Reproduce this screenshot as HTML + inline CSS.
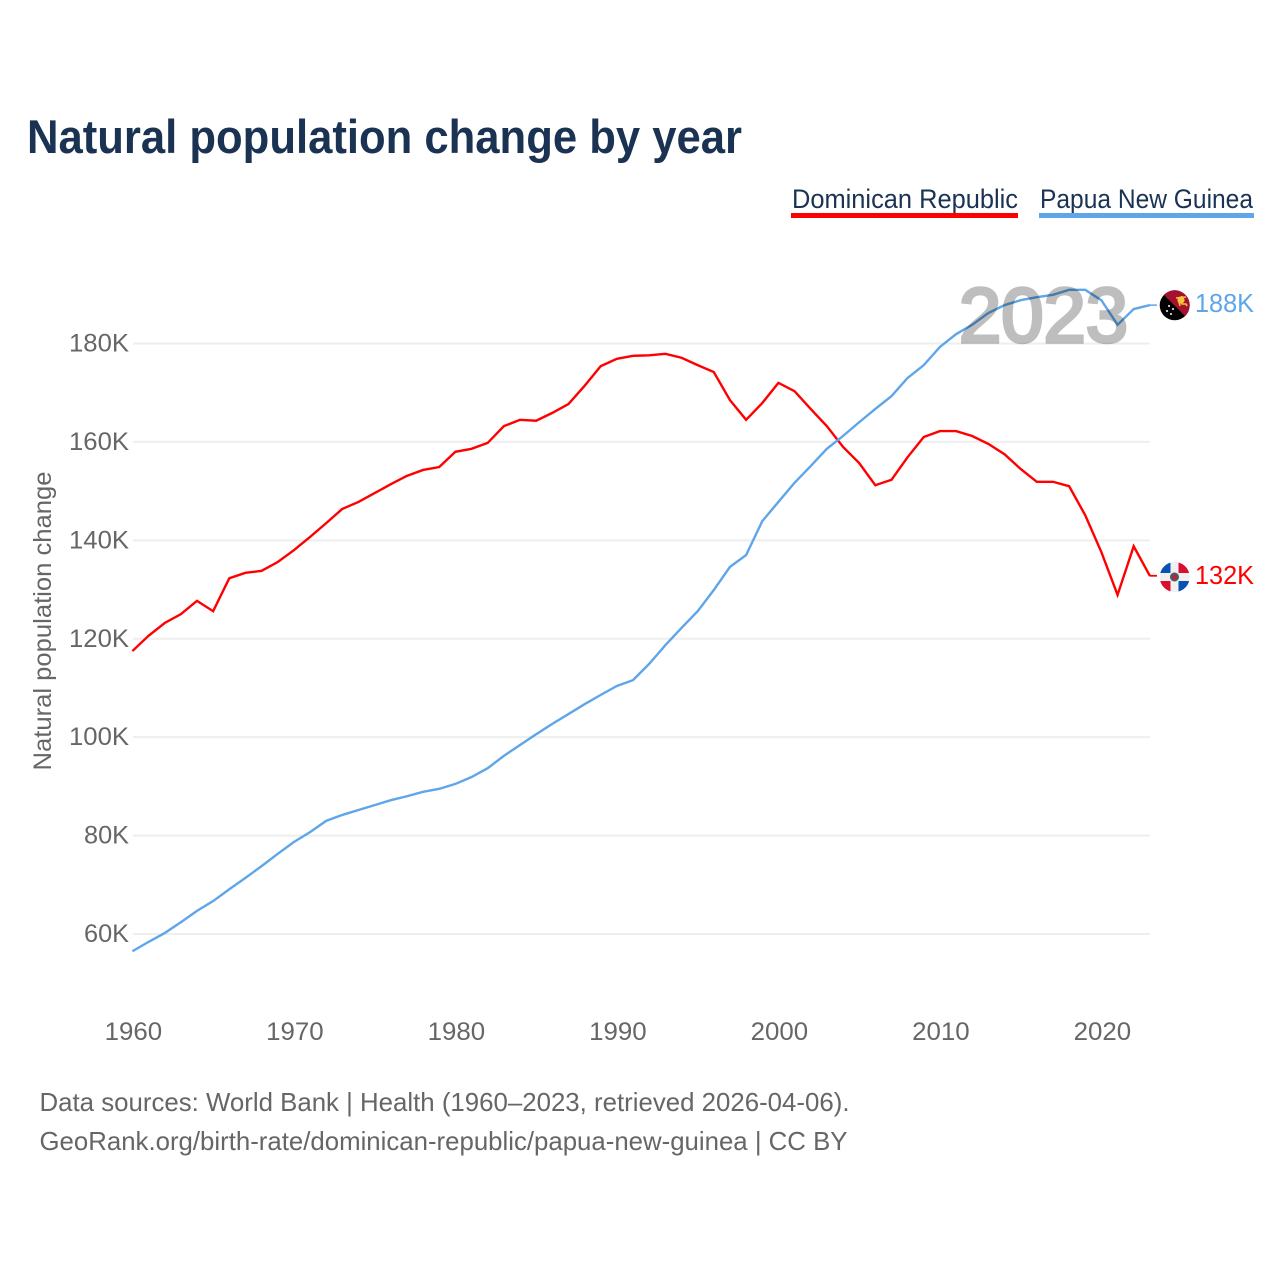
<!DOCTYPE html>
<html lang="en">
<head>
<meta charset="utf-8">
<title>Natural population change by year</title>
<style>
html,body{margin:0;padding:0;background:#fff;width:1280px;height:1280px;overflow:hidden}
svg{display:block}
text{font-family:"Liberation Sans",sans-serif}
</style>
</head>
<body>
<svg id="chart" width="1280" height="1280" viewBox="0 0 1280 1280" xmlns="http://www.w3.org/2000/svg">
  <defs>
    <clipPath id="flag-clip-pg"><circle cx="1174.7" cy="305.3" r="15"/></clipPath>
    <clipPath id="flag-clip-do"><circle cx="1174.7" cy="577" r="15"/></clipPath>
  </defs>
  <text x="27" y="153" font-size="47" font-weight="700" fill="#1a3353" textLength="715" lengthAdjust="spacingAndGlyphs">Natural population change by year</text>

  <g>
    <text x="792" y="208" font-size="27" fill="#1a3353" textLength="226" lengthAdjust="spacingAndGlyphs">Dominican Republic</text>
    <rect x="791" y="213" width="227" height="5" fill="#ff0000"/>
  </g>
  <g>
    <text x="1040" y="208" font-size="27" fill="#1a3353" textLength="213" lengthAdjust="spacingAndGlyphs">Papua New Guinea</text>
    <rect x="1039" y="213" width="215" height="5" fill="#5fa5ea"/>
  </g>

  <g id="grid"></g>
  <g id="y-ticks"></g>
  <g id="x-ticks"></g>
  <text transform="translate(51,621) rotate(-90)" text-anchor="middle" font-size="25" fill="#666666" textLength="299" lengthAdjust="spacingAndGlyphs">Natural population change</text>

  <path id="line-dr" fill="none" stroke="#ff0000" stroke-width="2.4" stroke-linejoin="miter"/>
  <path id="line-pg" fill="none" stroke="#5fa5ea" stroke-width="2.4" stroke-linejoin="miter"/>

  <text x="959" y="342" font-size="77" fill="#000" stroke="#000" stroke-width="3.5" opacity="0.25" textLength="169" lengthAdjust="spacingAndGlyphs">2023</text>

  <line id="leader-pg" x1="1149.5" x2="1157" stroke="#5fa5ea" stroke-width="1.5"/>
  <line id="leader-dr" x1="1149.5" x2="1157" stroke="#ff0000" stroke-width="1.8"/>

  <g clip-path="url(#flag-clip-pg)">
    <rect x="1159" y="290" width="32" height="32" fill="#000"/>
    <polygon points="1159,290 1191,290 1191,322" fill="#a6122d"/>
    <circle cx="1181" cy="300" r="3.6" fill="#f7c23c"/>
    <path d="M1176 298 L1186 297 M1182 296 L1182 304 L1186 304 L1187 306 M1179 302 L1180 306" fill="none" stroke="#f7c23c" stroke-width="1.6"/>
    <circle cx="1169" cy="306" r="1" fill="#fff"/>
    <circle cx="1173" cy="309" r="1" fill="#fff"/>
    <circle cx="1167" cy="311" r="1" fill="#fff"/>
    <circle cx="1171" cy="314" r="1" fill="#fff"/>
  </g>
  <g clip-path="url(#flag-clip-do)">
    <rect x="1159" y="561" width="32" height="32" fill="#f0f0f0"/>
    <rect x="1159" y="561" width="11.5" height="12" fill="#0a52b0"/>
    <rect x="1178.5" y="561" width="12.5" height="12" fill="#d80f2f"/>
    <rect x="1159" y="581" width="11.5" height="12" fill="#d80f2f"/>
    <rect x="1178.5" y="581" width="12.5" height="12" fill="#0a52b0"/>
    <circle cx="1174.5" cy="577" r="4.5" fill="#4a5a66"/>
    <circle cx="1174.5" cy="577" r="2.3" fill="#c8202f"/>
  </g>

  <text x="1195" y="312" font-size="26" fill="#5fa5ea" textLength="59" lengthAdjust="spacingAndGlyphs">188K</text>
  <text x="1195" y="584" font-size="26" fill="#ff0000" textLength="59" lengthAdjust="spacingAndGlyphs">132K</text>

  <text x="39.5" y="1111" font-size="26" fill="#666666" textLength="810" lengthAdjust="spacingAndGlyphs">Data sources: World Bank | Health (1960–2023, retrieved 2026-04-06).</text>
  <text x="39.5" y="1150" font-size="26" fill="#666666" textLength="808" lengthAdjust="spacingAndGlyphs">GeoRank.org/birth-rate/dominican-republic/papua-new-guinea | CC BY</text>
</svg>
<script>
var firstYear = 1960;
var dominicanValues = [117.5,120.6,123.2,125.0,127.7,125.6,132.3,133.4,133.8,135.6,138.0,140.7,143.5,146.4,147.8,149.6,151.4,153.1,154.3,154.9,158.0,158.6,159.8,163.2,164.5,164.3,165.9,167.7,171.4,175.4,176.9,177.5,177.6,177.9,177.1,175.6,174.2,168.5,164.5,167.9,172.0,170.3,166.7,163.2,159.0,155.7,151.2,152.3,156.9,161.0,162.2,162.2,161.2,159.6,157.5,154.5,151.9,151.9,151.0,145.1,137.6,128.9,138.8,132.8];
var papuaValues = [56.5,58.4,60.2,62.4,64.7,66.7,69.1,71.4,73.8,76.3,78.7,80.7,83.0,84.2,85.2,86.2,87.2,88.0,88.9,89.5,90.5,91.9,93.7,96.2,98.4,100.6,102.7,104.7,106.7,108.6,110.4,111.6,114.9,118.7,122.2,125.6,129.9,134.6,137.0,143.9,147.8,151.7,155.1,158.6,161.2,164.0,166.7,169.3,173.0,175.6,179.3,181.9,183.8,186.2,187.8,188.8,189.4,189.9,190.9,190.9,188.8,183.8,187.0,187.8];
var yTickValues = [60,80,100,120,140,160,180];
var yTickLabels = ["60K","80K","100K","120K","140K","160K","180K"];
var xTickValues = [1960,1970,1980,1990,2000,2010,2020];
var xTickLabels = ["1960","1970","1980","1990","2000","2010","2020"];

var NS = "http://www.w3.org/2000/svg";
function xScale(year){ return 133 + (year - 1960) * 16.15; }
function yScale(value){ return 343.5 + (180 - value) * 4.921; }
function pathFor(values){
  var d = "";
  for (var i = 0; i < values.length; i++) {
    d += (i ? "L" : "M") + (xScale(firstYear + i) - 0.6).toFixed(2) + " " + yScale(values[i]).toFixed(2);
  }
  return d;
}
function makeEl(tag, attrs, parent, txt){
  var el = document.createElementNS(NS, tag);
  for (var k in attrs) el.setAttribute(k, attrs[k]);
  if (txt) el.textContent = txt;
  parent.appendChild(el);
  return el;
}
var grid = document.getElementById("grid");
var yTicks = document.getElementById("y-ticks");
var xTicks = document.getElementById("x-ticks");
yTickValues.forEach(function(v, i){
  var y = yScale(v);
  var ln = makeEl("line", {x1:133, x2:1150, y1:y, y2:y, stroke:"#eeeeee", "stroke-width":2}, grid);
  
  
  var label = yTickLabels[i];
  var t = makeEl("text", {x:129, y:y + 8, "text-anchor":"end", "font-size":25, fill:"#666666", textLength:label.length * 15, lengthAdjust:"spacingAndGlyphs"}, yTicks, label);
  
  
});
xTickValues.forEach(function(v, i){
  var t = makeEl("text", {x:xScale(v) + 0.4, y:1040, "text-anchor":"middle", "font-size":25, fill:"#666666", textLength:57.5, lengthAdjust:"spacingAndGlyphs"}, xTicks, xTickLabels[i]);
  
  
});
document.getElementById("line-dr").setAttribute("d", pathFor(dominicanValues));
document.getElementById("line-pg").setAttribute("d", pathFor(papuaValues));
var lastDr = yScale(dominicanValues[dominicanValues.length - 1]);
var lastPg = yScale(papuaValues[papuaValues.length - 1]);
var leaderDr = document.getElementById("leader-dr");
leaderDr.setAttribute("y1", lastDr);
leaderDr.setAttribute("y2", lastDr);
var leaderPg = document.getElementById("leader-pg");
leaderPg.setAttribute("y1", lastPg);
leaderPg.setAttribute("y2", lastPg);
</script>
</body>
</html>
